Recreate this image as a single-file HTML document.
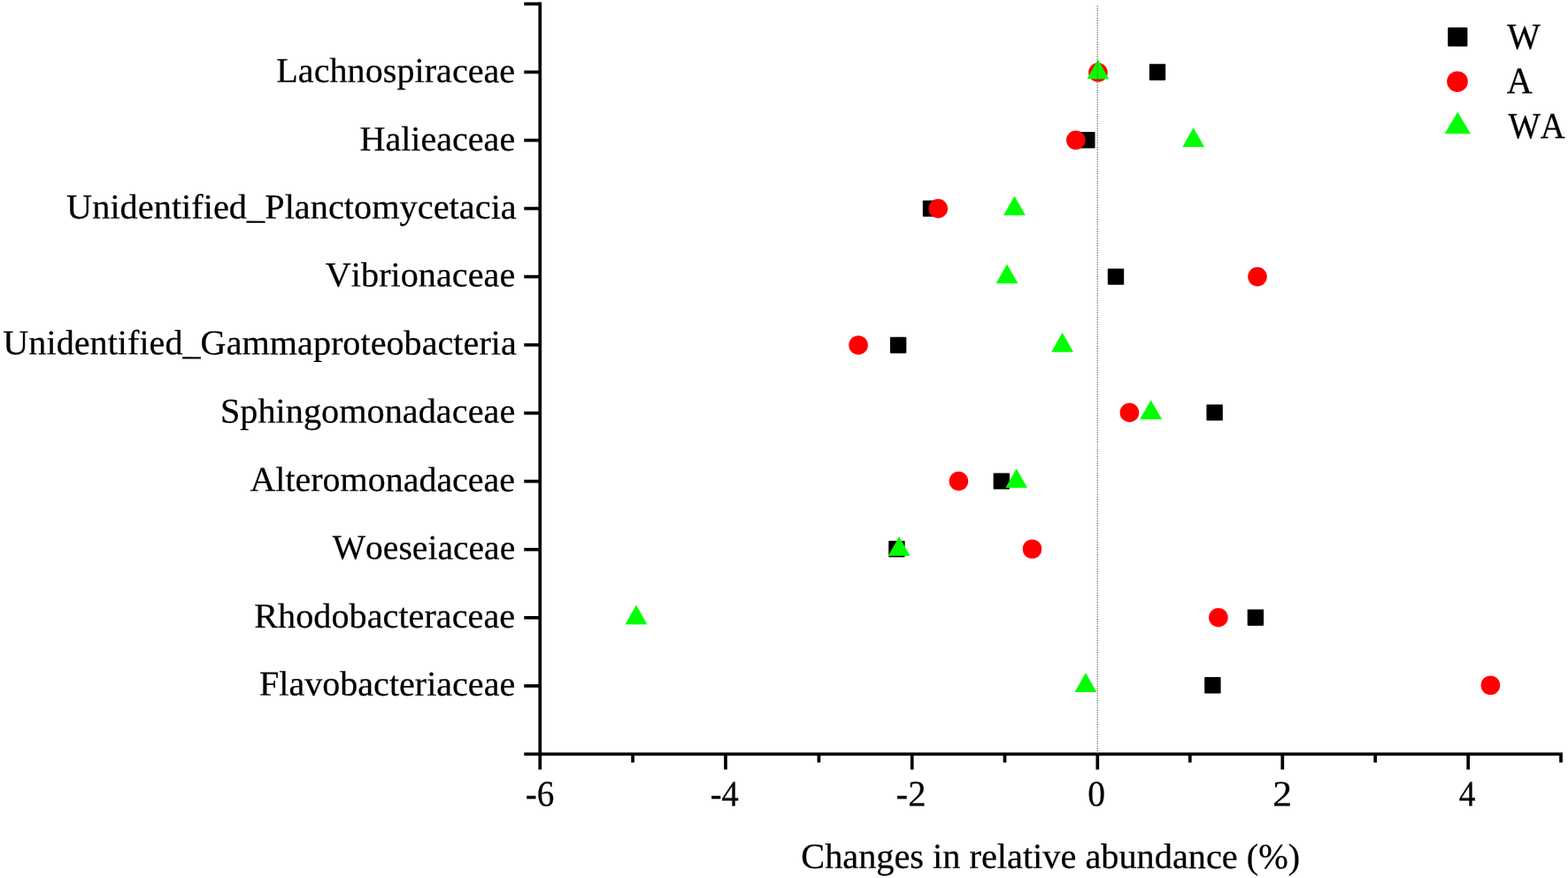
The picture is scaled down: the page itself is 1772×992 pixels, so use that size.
<!DOCTYPE html>
<html lang="en"><head><meta charset="utf-8"><title>Changes in relative abundance</title>
<style>html,body{margin:0;padding:0;background:#fff}body{width:1772px;height:992px;overflow:hidden}svg{display:block}text{font-family:"Liberation Serif","Times New Roman",serif;font-size:40px;font-kerning:none;fill:#000;stroke:#000;stroke-width:0.25px}</style></head><body>
<svg width="1772" height="992" viewBox="0 0 1772 992">
<rect width="1772" height="992" fill="#fff"/>
<g stroke="#000" stroke-width="3.7" stroke-linecap="butt" fill="none">
<line x1="610.3" y1="2.5500000000000003" x2="610.3" y2="852.0"/>
<line x1="592.3" y1="852.0" x2="1765.8" y2="852.0"/>
<line x1="592.3" y1="4.4" x2="610.3" y2="4.4"/>
<line x1="592.3" y1="81.45" x2="610.3" y2="81.45"/>
<line x1="592.3" y1="158.51" x2="610.3" y2="158.51"/>
<line x1="592.3" y1="235.56" x2="610.3" y2="235.56"/>
<line x1="592.3" y1="312.62" x2="610.3" y2="312.62"/>
<line x1="592.3" y1="389.67" x2="610.3" y2="389.67"/>
<line x1="592.3" y1="466.73" x2="610.3" y2="466.73"/>
<line x1="592.3" y1="543.78" x2="610.3" y2="543.78"/>
<line x1="592.3" y1="620.84" x2="610.3" y2="620.84"/>
<line x1="592.3" y1="697.89" x2="610.3" y2="697.89"/>
<line x1="592.3" y1="774.95" x2="610.3" y2="774.95"/>
<line x1="610.3" y1="852.0" x2="610.3" y2="869.5"/>
<line x1="715.1" y1="852.0" x2="715.1" y2="861.5"/>
<line x1="820.0" y1="852.0" x2="820.0" y2="869.5"/>
<line x1="925.4" y1="852.0" x2="925.4" y2="861.5"/>
<line x1="1030.7" y1="852.0" x2="1030.7" y2="869.5"/>
<line x1="1135.5" y1="852.0" x2="1135.5" y2="861.5"/>
<line x1="1240.3" y1="852.0" x2="1240.3" y2="869.5"/>
<line x1="1344.8" y1="852.0" x2="1344.8" y2="861.5"/>
<line x1="1449.3" y1="852.0" x2="1449.3" y2="869.5"/>
<line x1="1554.2" y1="852.0" x2="1554.2" y2="861.5"/>
<line x1="1659.2" y1="852.0" x2="1659.2" y2="869.5"/>
<line x1="1764.0" y1="852.0" x2="1764.0" y2="861.5"/>
</g>
<g>
<text text-anchor="middle" transform="translate(447.26 92.85) scale(1.0049 0.985) skewY(0.03)">Lachnospiraceae</text>
<text text-anchor="middle" transform="translate(494.32 170.06) scale(1.0020 0.985) skewY(0.03)">Halieaceae</text>
<text text-anchor="middle" transform="translate(329.43 246.76) scale(1.0089 0.985) skewY(0.03)">Unidentified_Planctomycetacia</text>
<text text-anchor="middle" transform="translate(475.03 323.52) scale(1.0059 0.985) skewY(0.03)">Vibrionaceae</text>
<text text-anchor="middle" transform="translate(293.55 400.37) scale(1.0053 0.985) skewY(0.03)">Unidentified_Gammaproteobacteria</text>
<text text-anchor="middle" transform="translate(415.57 477.53) scale(1.0075 0.985) skewY(0.03)">Sphingomonadaceae</text>
<text text-anchor="middle" transform="translate(432.26 554.88) scale(0.9997 0.985) skewY(0.03)">Alteromonadaceae</text>
<text text-anchor="middle" transform="translate(478.98 631.64) scale(0.9896 0.985) skewY(0.03)">Woeseiaceae</text>
<text text-anchor="middle" transform="translate(434.68 708.99) scale(1.0065 0.985) skewY(0.03)">Rhodobacteraceae</text>
<text text-anchor="middle" transform="translate(437.60 785.65) scale(1.0021 0.985) skewY(0.03)">Flavobacteriaceae</text>
</g>
<g>
<text text-anchor="middle" transform="translate(609.97 910.60) scale(0.9803 1.025) skewY(0.03)">-6</text>
<text text-anchor="middle" transform="translate(818.66 910.60) scale(0.9600 1.025) skewY(0.03)">-4</text>
<text text-anchor="middle" transform="translate(1029.52 910.60) scale(1.0169 1.025) skewY(0.03)">-2</text>
<text text-anchor="middle" transform="translate(1239.20 910.60) scale(0.9882 1.025) skewY(0.03)">0</text>
<text text-anchor="middle" transform="translate(1449.12 910.60) scale(1.0938 1.025) skewY(0.03)">2</text>
<text text-anchor="middle" transform="translate(1658.15 910.60) scale(0.9351 1.025) skewY(0.03)">4</text>
</g>
<text text-anchor="middle" transform="translate(1187.21 980.80) scale(1.0078 1.000) skewY(0.03)">Changes in relative abundance (%)</text>
<g>
<rect x="1298.80" y="72.25" width="18.4" height="18.4" rx="0.8" fill="#000"/>
<rect x="1219.10" y="149.11" width="18.4" height="18.4" rx="0.8" fill="#000"/>
<rect x="1042.80" y="226.46" width="18.4" height="18.4" rx="0.8" fill="#000"/>
<rect x="1251.80" y="303.42" width="18.4" height="18.4" rx="0.8" fill="#000"/>
<rect x="1005.90" y="380.77" width="18.4" height="18.4" rx="0.8" fill="#000"/>
<rect x="1363.45" y="456.93" width="18.4" height="18.4" rx="0.8" fill="#000"/>
<rect x="1122.60" y="534.38" width="18.4" height="18.4" rx="0.8" fill="#000"/>
<rect x="1004.20" y="611.04" width="18.4" height="18.4" rx="0.8" fill="#000"/>
<rect x="1409.70" y="688.49" width="18.4" height="18.4" rx="0.8" fill="#000"/>
<rect x="1361.20" y="765.05" width="18.4" height="18.4" rx="0.8" fill="#000"/>
<circle cx="1240.90" cy="81.80" r="10.8" fill="#ff0000"/>
<circle cx="1215.80" cy="158.31" r="10.8" fill="#ff0000"/>
<circle cx="1060.20" cy="235.66" r="10.8" fill="#ff0000"/>
<circle cx="1421.00" cy="312.62" r="10.8" fill="#ff0000"/>
<circle cx="970.05" cy="389.97" r="10.8" fill="#ff0000"/>
<circle cx="1276.40" cy="466.13" r="10.8" fill="#ff0000"/>
<circle cx="1083.40" cy="543.58" r="10.8" fill="#ff0000"/>
<circle cx="1166.50" cy="620.24" r="10.8" fill="#ff0000"/>
<circle cx="1376.90" cy="697.69" r="10.8" fill="#ff0000"/>
<circle cx="1684.40" cy="774.25" r="10.8" fill="#ff0000"/>
<polygon points="1240.80,67.35 1253.20,89.15 1228.40,89.15" fill="#00ff00"/>
<polygon points="1348.70,144.21 1361.10,166.01 1336.30,166.01" fill="#00ff00"/>
<polygon points="1146.50,221.56 1158.90,243.36 1134.10,243.36" fill="#00ff00"/>
<polygon points="1138.00,298.52 1150.40,320.32 1125.60,320.32" fill="#00ff00"/>
<polygon points="1200.60,375.87 1213.00,397.67 1188.20,397.67" fill="#00ff00"/>
<polygon points="1300.60,452.03 1313.00,473.83 1288.20,473.83" fill="#00ff00"/>
<polygon points="1148.70,529.48 1161.10,551.28 1136.30,551.28" fill="#00ff00"/>
<polygon points="1016.10,606.14 1028.50,627.94 1003.70,627.94" fill="#00ff00"/>
<polygon points="719.00,683.59 731.40,705.39 706.60,705.39" fill="#00ff00"/>
<polygon points="1226.90,760.15 1239.30,781.95 1214.50,781.95" fill="#00ff00"/>
</g>
<line x1="1240.25" y1="6.45" x2="1240.25" y2="852.0" stroke="#626262" stroke-width="1.25" stroke-dasharray="1.25 1.455"/>
<g>
<rect x="1636.2" y="31.0" width="22.2" height="21.6" rx="1" fill="#000"/>
<circle cx="1647.00" cy="92.20" r="11.8" fill="#ff0000"/>
<polygon points="1647.3,126.5 1661.9,151 1632.7,151" fill="#00ff00"/>
<text text-anchor="middle" transform="translate(1721.96 54.90) scale(0.9934 1.035) skewY(0.03)">W</text>
<text text-anchor="middle" transform="translate(1717.24 105.30) scale(1.0071 1.050) skewY(0.03)">A</text>
<text text-anchor="middle" transform="translate(1736.54 156.10) scale(0.9645 1.035) skewY(0.03)">WA</text>
</g>
</svg></body></html>
